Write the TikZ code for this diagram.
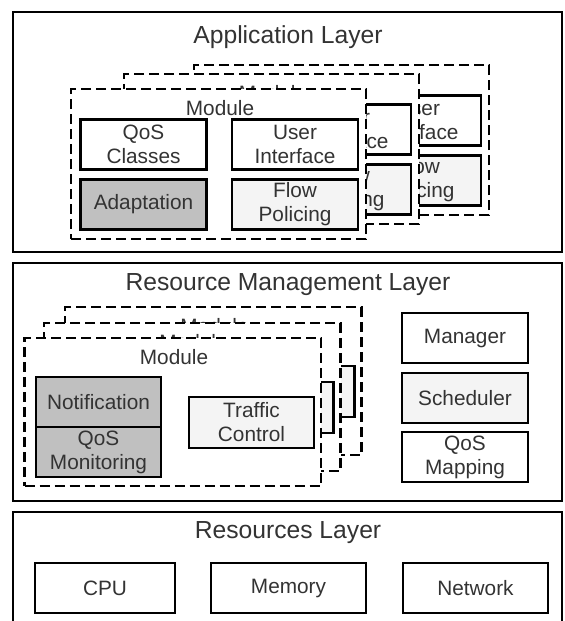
\documentclass[tikz,border=0pt]{standalone}
\usepackage{fontspec}
\setmainfont{Liberation Sans}
\definecolor{txt}{HTML}{333333}
\definecolor{dkfill}{HTML}{C0C0C0}
\definecolor{ltfill}{HTML}{F4F4F4}
\tikzset{
  layer/.style={draw=black, line width=1.9pt, fill=white, inner sep=0pt, outer sep=0pt},
  ttl/.style={text=txt, font=\fontsize{18.5pt}{21pt}\selectfont, inner sep=0pt},
  lbl/.style={text=txt, font=\fontsize{15.6pt}{18pt}\selectfont, inner sep=0pt},
  appmod/.style={draw=black, line width=2.2pt, dash pattern=on 7.5pt off 3.75pt, fill=white, inner sep=0pt, outer sep=0pt},
  rmmod/.style={draw=black, line width=1.7pt, dash pattern=on 7.5pt off 3.75pt, fill=white, inner sep=0pt, outer sep=0pt},
  ibox/.style={draw=black, line width=2.2pt, fill=white, text=txt, align=center,
     font=\fontsize{15.6pt}{18pt}\selectfont, inner sep=0pt, outer sep=0pt},
  sz/.style 2 args={minimum width=#1*0.75pt, minimum height=#2*0.75pt},
}
\newcommand\appmodule[3]{%
  \begin{scope}[shift={(#2,#3)}]
    \node[appmod, sz={295}{150}] (#1) at (218.5,164) {};
    \node[lbl] (#1lbl) at (220,108) {Module};
    \node[ibox, sz={126}{50}] (#1qos) at (143.5,144.5) {QoS\\Classes};
    \node[ibox, sz={126}{50}] (#1ui) at (295,144.5) {User\\Interface};
    \node[ibox, sz={126}{50}, fill=dkfill] (#1ad) at (143.5,204.5) {Adaptation};
    \node[ibox, sz={126}{50}, fill=ltfill] (#1fp) at (295,204.5) {Flow\\Policing};
  \end{scope}}
\newcommand\rmmodule[3]{%
  \begin{scope}[shift={(#2,#3)}]
    \node[rmmod, sz={296.5}{148}] (#1) at (172.75,412) {};
    \node[lbl] (#1lbl) at (174,357) {Module};
    \node[ibox, draw=none, fill=dkfill, sz={125}{50}] (#1no) at (98.5,402) {Notification};
    \node[ibox, draw=none, fill=dkfill, sz={125}{50}] (#1qm) at (98.5,452) {QoS\\Monitoring};
    \draw[line width=0.8pt] (#1no.south west) -- (#1no.south east);
    \draw[line width=2.2pt] (#1no.north west) rectangle (#1qm.south east);
    \node[ibox, fill=ltfill, sz={125}{51}] (#1tc) at (251.5,422.5) {Traffic\\Control};
  \end{scope}}
\begin{document}
\begin{tikzpicture}[x=0.75pt, y=-0.75pt]
  \useasboundingbox (0,0) rectangle (564,621);
  \clip (0,0) rectangle (564,621);
  % Application layer
  \node[layer, sz={549}{240}] (app) at (287.5,132) {};
  \node[ttl] (apptitle) at (288,37) {Application Layer};
  \appmodule{amc}{123}{-24}
  \appmodule{amb}{53}{-15}
  \appmodule{ama}{0}{0}
  % Resource management layer
  \node[layer, sz={549}{238}] (rm) at (287.5,382) {};
  \node[ttl] (rmtitle) at (288,285) {Resource Management Layer};
  \rmmodule{rmc}{40.5}{-31}
  \rmmodule{rmb}{19.5}{-15}
  \rmmodule{rma}{0}{0}
  \node[ibox, sz={126}{50}] (manager) at (465,338) {Manager};
  \node[ibox, sz={126}{50}, fill=ltfill] (sched) at (465,398) {Scheduler};
  \node[ibox, sz={126}{50}] (qosmap) at (465,457) {QoS\\Mapping};
  % Resources layer
  \node[layer, sz={549}{140}] (res) at (287.5,582) {};
  \node[ttl] (restitle) at (288,533) {Resources Layer};
  \node[ibox, sz={140}{50}] (cpu) at (105,588) {CPU};
  \node[ibox, sz={155}{50}] (mem) at (288.5,588) {Memory};
  \node[ibox, sz={145}{50}] (net) at (475.5,588) {Network};
\end{tikzpicture}
\end{document}
